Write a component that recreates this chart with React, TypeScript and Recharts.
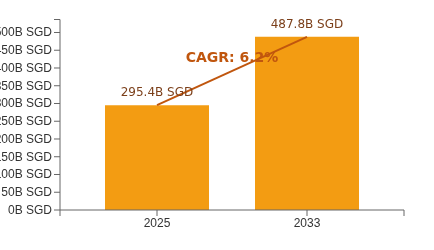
import React from "react"
import { Bar, ComposedChart, LabelList, ReferenceLine, XAxis, YAxis } from "recharts"

const years = ["2025", "2033"]
const marketSize = [295.4, 487.8]
const yTicks = [0, 50, 100, 150, 200, 250, 300, 350, 400, 450, 500]
const cagrText = "CAGR: 6.2%"

const data = years.map((year, i) => ({ year, value: marketSize[i] }))

const AXIS = "#666666"

const cagrLabel = (props: any) => {
  const { viewBox } = props
  if (!viewBox) return <></>
  const cx = viewBox.x + viewBox.width / 2
  const cy = viewBox.y + viewBox.height / 2
  return (
    <text
      x={cx}
      y={cy - 9}
      textAnchor="middle"
      fill="#C0560E"
      fontFamily="DejaVu Sans"
      fontWeight="bold"
      fontSize={14}>
      {cagrText}
    </text>
  )
}

// plain tick text so the long labels are not wrapped
const YTick = (props: any) => {
  const { x, y, payload } = props
  return (
    <text x={x} y={y} dy={4} textAnchor="end" fill="#333333" fontFamily="Liberation Sans" fontSize={12}>
      {`${payload.value}B SGD`}
    </text>
  )
}

const App: React.FC = () => {
  return (
    <div style={{ position: "fixed", left: 0, top: 0, width: 434, height: 250 }}>
      <style>{".recharts-surface, .recharts-wrapper { overflow: visible !important; }"}</style>
      <ComposedChart
        width={434}
        height={250}
        data={data}
        margin={{ top: 19.5, right: 30, bottom: 10, left: 0 }}>
        <XAxis
          dataKey="year"
          padding={{ left: 22, right: 22 }}
          stroke={AXIS}
          tick={{ fill: "#333333", fontFamily: "Liberation Sans", fontSize: 12 }}
          tickLine={{ stroke: AXIS }}
        />
        <YAxis
          width={60}
          domain={[0, (dataMax: number) => dataMax * 1.1]}
          ticks={yTicks}
          interval={0}
          stroke={AXIS}
          tick={<YTick />}
          allowDataOverflow
        />
        <Bar dataKey="value" fill="#F39C12" barSize={104} isAnimationActive={false}>
          <LabelList
            dataKey="value"
            position="top"
            offset={9}
            formatter={(v: any) => `${v}B SGD`}
            fill="#7B3F1A"
            fontFamily="DejaVu Sans"
            fontSize={12}
          />
        </Bar>
        <ReferenceLine
          segment={[
            { x: years[0], y: marketSize[0] },
            { x: years[1], y: marketSize[1] },
          ]}
          stroke="#C0560E"
          strokeWidth={2}
          ifOverflow="visible"
          label={cagrLabel}
        />
      </ComposedChart>
      {/* outer ticks at the axis ends */}
      <svg width={434} height={250} style={{ position: "absolute", left: 0, top: 0, pointerEvents: "none" }}>
        <line x1={54} y1={19.5} x2={60} y2={19.5} stroke={AXIS} />
        <line x1={60} y1={210} x2={60} y2={216} stroke={AXIS} />
        <line x1={404} y1={210} x2={404} y2={216} stroke={AXIS} />
      </svg>
    </div>
  )
}

export default App
